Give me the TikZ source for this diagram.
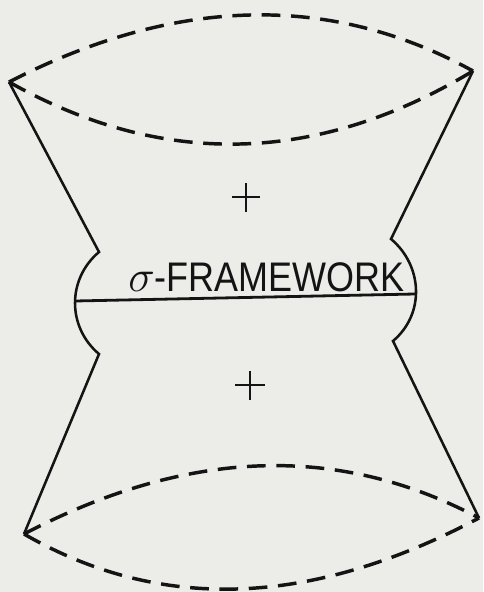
\documentclass[tikz,border=0pt]{standalone}
\usepackage{fontspec}
\usepackage{graphicx}
\newfontfamily\labfont{Liberation Sans}
\definecolor{paper}{RGB}{236,236,233}
\definecolor{ink}{RGB}{20,20,20}
\begin{document}
\begin{tikzpicture}[x=0.75pt,y=-0.75pt,
  solidedge/.style={draw=ink,line width=1.9pt,line join=miter},
  dashedge/.style={draw=ink,line width=2.6pt,dash pattern=on 14pt off 8pt},
  crossmark/.style={draw=ink,line width=2.2pt}]
\fill[paper] (0,0) rectangle (483,592);
\useasboundingbox (0,0) rectangle (483,592);
% vertices
\coordinate (tl) at (9,82);
\coordinate (tr) at (473,71);
\coordinate (bl) at (24,534);
\coordinate (br) at (479,518);
\coordinate (lk1) at (99,252);
\coordinate (lk2) at (99,354);
\coordinate (rk1) at (391,239);
\coordinate (rk2) at (393,341);
\coordinate (lm) at (75,301);
\coordinate (rm) at (415,294);
% top lens
\draw[dashedge] (tl) .. controls (175.7,-3.7) and (330.7,-7.3) .. (tr);
\draw[dashedge] (tl) .. controls (162.3,168.3) and (317.3,164.7) .. (tr);
% bottom lens
\draw[dashedge] (bl) .. controls (187.3,448.7) and (337.7,443) .. (br);
\draw[dashedge] (bl) .. controls (160.7,612.7) and (311,607) .. (br);
% outline
\draw[solidedge] (tl) -- (lk1) .. controls (67,279) and (67,327) .. (lk2) -- (bl);
\draw[solidedge] (tr) -- (rk1) .. controls (423,266) and (425,314) .. (rk2) -- (br);
% horizontal line
\draw[draw=ink,line width=2.1pt] (lm) -- (rm);
% crosses
\coordinate (c1) at (246,197);
\coordinate (c2) at (250,385);
\draw[crossmark] ([xshift=-10.5pt]c1) -- ([xshift=10.5pt]c1);
\draw[crossmark] ([yshift=10.5pt]c1) -- ([yshift=-11pt]c1);
\draw[crossmark] ([xshift=-11pt]c2) -- ([xshift=11pt]c2);
\draw[crossmark] ([yshift=10.5pt]c2) -- ([yshift=-11pt]c2);
% label
\node[anchor=base west,inner sep=0pt,text=ink] (lab) at (128,291)
  {\fontsize{31}{31}\selectfont\scalebox{1.35}{$\sigma$}\scalebox{0.87}[1]{\labfont -FRAMEWORK}};
\end{tikzpicture}
\end{document}
